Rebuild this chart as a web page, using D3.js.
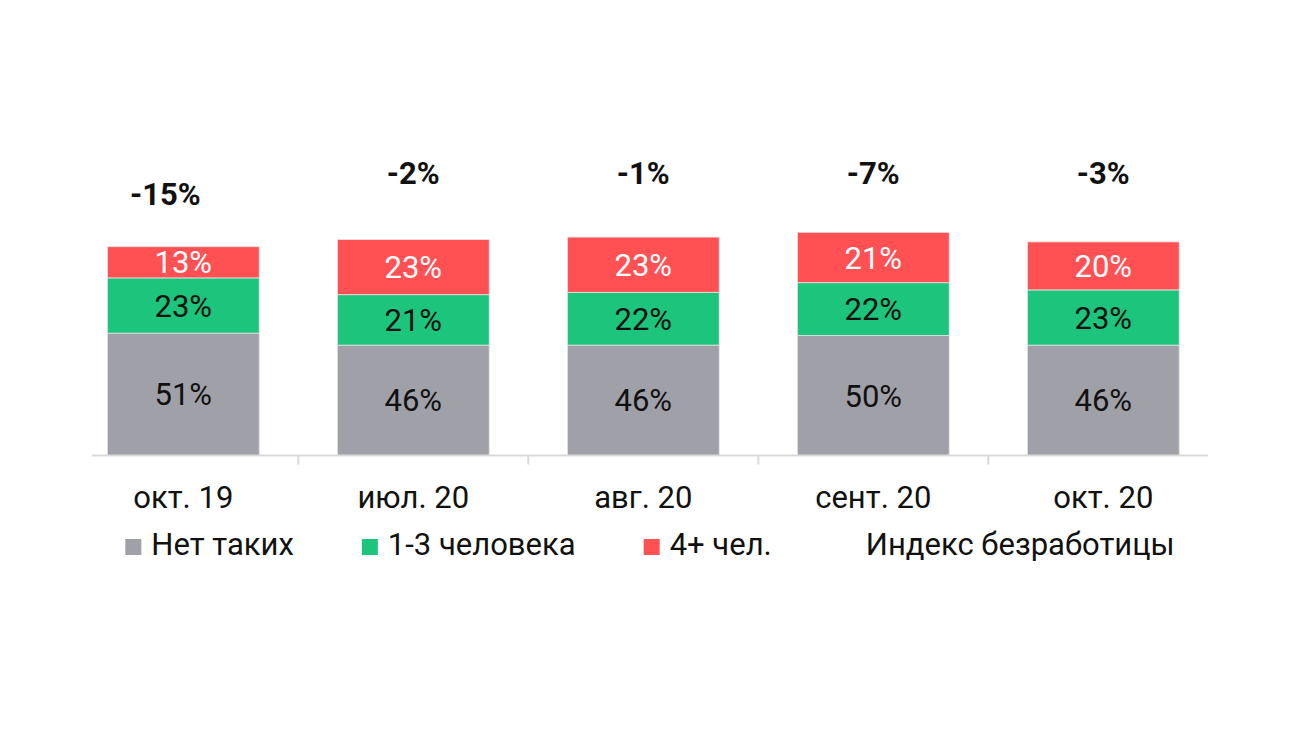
<!DOCTYPE html>
<html>
<head>
<meta charset="utf-8">
<script src="https://cdn.jsdelivr.net/npm/d3@7"></script>
<style>
  html, body { margin: 0; padding: 0; background: #fff; }
  text { font-family: Roboto, "Noto Sans", sans-serif; }
</style>
</head>
<body>
<div id="container"></div>
<script>
/* DATA */
const categories = ["окт. 19", "июл. 20", "авг. 20", "сент. 20", "окт. 20"];
const noneValues = [51, 46, 46, 50, 46];
const fewValues = [23, 21, 22, 22, 23];
const manyValues = [13, 23, 23, 21, 20];
const indexValues = [-15, -2, -1, -7, -3];
const seriesNames = ["Нет таких", "1-3 человека", "4+ чел.", "Индекс безработицы"];

/* CONSTANTS */
const width = 1300,
  height = 731,
  baseY = 455.5,
  fontSize = 31;
const colors = ["#a0a0a8", "#1cc47c", "#ff5053"];
const textColors = ["#111", "#111", "#fff"];
const idxLabelShift = [-18, 0, 0, 0, 0];

const rows = categories.map((c, i) => ({
  cat: c,
  none: noneValues[i],
  few: fewValues[i],
  many: manyValues[i],
  idx: indexValues[i]
}));
const keys = ["none", "few", "many"];
const stacked = d3.stack().keys(keys)(rows);

// SCALES
const xScale = d3.scaleBand()
  .domain(categories)
  .range([68.3, 1218.3])
  .paddingInner(0.34)
  .paddingOuter(0.17);

const yScale = d3.scaleLinear()
  .domain([0, 100])
  .range([baseY, baseY - 240]);

// secondary axis for the index, labels kept inside the plot top
const yIdx = d3.scaleLinear()
  .domain([-20, 0])
  .range([220, 160]);
const idxTop = 184;

const svg = d3.select("#container")
  .append("svg")
  .attr("width", width)
  .attr("height", height);

// BARS
const layers = svg.selectAll("g.layer")
  .data(stacked)
  .join("g")
  .attr("class", "layer")
  .attr("fill", (d, i) => colors[i]);

layers.selectAll("rect")
  .data(d => d)
  .join("rect")
  .attr("x", d => xScale(d.data.cat))
  .attr("y", d => yScale(d[1]))
  .attr("width", xScale.bandwidth())
  .attr("height", d => yScale(d[0]) - yScale(d[1]))
  .attr("stroke", "#e4e4e4")
  .attr("stroke-width", 0.8);

// segment labels
stacked.forEach((layer, li) => {
  svg.append("g")
    .selectAll("text")
    .data(layer)
    .join("text")
    .attr("x", d => xScale(d.data.cat) + xScale.bandwidth() / 2)
    .attr("y", d => (yScale(d[0]) + yScale(d[1])) / 2)
    .attr("dy", "0.36em")
    .attr("text-anchor", "middle")
    .attr("font-size", fontSize)
    .attr("fill", textColors[li])
    .text(d => `${d[1] - d[0]}%`);
});

// AXIS
svg.append("line")
  .attr("x1", 92).attr("x2", 1208)
  .attr("y1", baseY).attr("y2", baseY)
  .attr("stroke", "#d9d9d9")
  .attr("stroke-width", 2);

svg.append("g")
  .selectAll("line")
  .data(categories.slice(1))
  .join("line")
  .attr("x1", d => xScale(d) - xScale.step() * xScale.paddingInner() / 2)
  .attr("x2", d => xScale(d) - xScale.step() * xScale.paddingInner() / 2)
  .attr("y1", baseY)
  .attr("y2", baseY + 9)
  .attr("stroke", "#d9d9d9")
  .attr("stroke-width", 2);

svg.append("g")
  .selectAll("text")
  .data(categories)
  .join("text")
  .attr("x", d => xScale(d) + xScale.bandwidth() / 2)
  .attr("y", 508)
  .attr("text-anchor", "middle")
  .attr("font-size", fontSize)
  .attr("fill", "#111")
  .text(d => d);

// INDEX LABELS
svg.append("g")
  .selectAll("text")
  .data(rows)
  .join("text")
  .attr("x", (d, i) => xScale(d.cat) + xScale.bandwidth() / 2 + idxLabelShift[i])
  .attr("y", d => Math.max(yIdx(d.idx), idxTop))
  .attr("text-anchor", "middle")
  .attr("font-size", fontSize)
  .attr("font-weight", "bold")
  .attr("fill", "#111")
  .text(d => `${d.idx}%`);

// LEGEND
const legend = svg.append("g");
let lx = 0;
seriesNames.forEach((name, i) => {
  const item = legend.append("g").attr("transform", `translate(${lx},0)`);
  if (i < colors.length) {
    item.append("rect")
      .attr("x", 0).attr("y", -16)
      .attr("width", 16).attr("height", 16)
      .attr("fill", colors[i]);
  }
  const t = item.append("text")
    .attr("x", 26)
    .attr("y", 0)
    .attr("font-size", fontSize)
    .attr("fill", "#111")
    .text(name);
  lx += 26 + t.node().getComputedTextLength() + 68;
});
const lw = lx - 68;
legend.attr("transform", `translate(${650 - lw / 2},555)`);
</script>
</body>
</html>
